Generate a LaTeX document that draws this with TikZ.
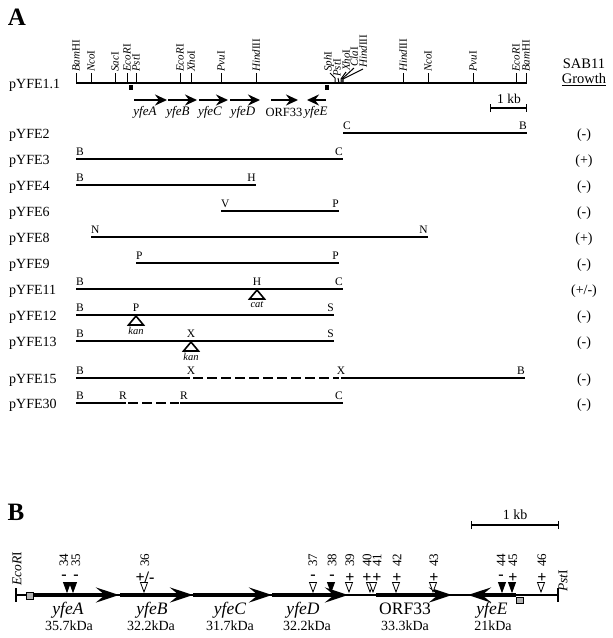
\documentclass[tikz,border=0pt]{standalone}
\usepackage{fontspec}
\setmainfont{Liberation Serif}
\usetikzlibrary{arrows.meta,positioning,calc}

\begin{document}
\begin{tikzpicture}[x=1pt, y=-1pt,
  every node/.style={inner sep=0pt},
  panel/.style={font=\bfseries\fontsize{25}{26}\selectfont},
  rowlbl/.style={anchor=west, font=\fontsize{14}{16}\selectfont},
  result/.style={font=\fontsize{14}{15}\selectfont},
  site/.style={rotate=90, anchor=west, font=\fontsize{11}{12}\selectfont},
  endpt/.style={font=\fontsize{11.5}{12}\selectfont},
  frag/.style={line width=1.2pt},
  deleted/.style={line width=1.2pt, dash pattern=on 10pt off 4pt},
  insert/.style={line width=1.6pt, line join=miter},
  cassette/.style={font=\itshape\fontsize{10.5}{11}\selectfont},
  orfA/.style={line width=2.6pt, -{Stealth[length=12pt,width=11pt,inset=4pt]}},
  orfB/.style={line width=4.8pt, -{Stealth[length=23pt,width=15pt,inset=9pt]}},
  gname/.style={font=\itshape\fontsize{13}{14}\selectfont},
  gnameB/.style={font=\fontsize{17.5}{19}\selectfont},
  kda/.style={font=\fontsize{14}{16}\selectfont},
  scalebar/.style={line width=1.1pt, {Bar[width=8pt]}-{Bar[width=8pt]}},
  num/.style={rotate=90, anchor=west, font=\fontsize{13}{14}\selectfont},
  sign/.style={font=\bfseries\fontsize{16}{17}\selectfont},
  opentri/.style={draw, fill=white, line width=0.8pt, line join=miter},
  filltri/.style={draw, fill=black, line width=0.8pt, line join=miter}]
  \useasboundingbox (0,0) rectangle (613,638);

  % ---------------- Panel A: restriction map of pYFE1.1
  \node[panel] (pA) at (17,17) {A};
  \node[rowlbl] (p11) at (9,85) {pYFE1.1};
  \draw[line width=1.3pt] (76,83) -- (527,83);
  \foreach \x/\s in {76/\textit{Bam}HI, 91/\textit{Nco}I, 115/\textit{Sac}I,
      127/\textit{EcoR}I, 136/\textit{Pst}I, 180/\textit{EcoR}I, 191/\textit{Xho}I,
      221/\textit{Pvu}I, 256/\textit{Hind}III, 403/\textit{Hind}III, 428/\textit{Nco}I,
      473/\textit{Pvu}I, 516/\textit{EcoR}I, 526/\textit{Bam}HI}{
    \draw[line width=1pt] (\x,83) -- (\x,73);
    \node[site] at (\x,72) {\s};
  }
  % cluster of sites at the yfeE end
  \draw[line width=1pt] (335,83) -- (335,78) -- (330,73);
  \draw[line width=1pt] (339,83) -- (338,78);
  \draw[line width=1pt] (341,83) -- (341,79) -- (346,72);
  \draw[line width=1pt] (342,83) -- (342,79) -- (354,68);
  \draw[line width=1pt] (343,83) -- (343,79) -- (363,69);
  \node[site] (sph) at (329,72) {\textit{Sph}I};
  \node[site] (pst) at (337,77) {\textit{Pst}I};
  \node[site] (xho) at (346,71) {\textit{Xho}I};
  \node[site] (cla) at (354,67) {\textit{Cla}I};
  \node[site] (hind) at (363,68) {\textit{Hind}III};
  \fill (128.5,84.5) rectangle (132.5,89.5);
  \fill (324.5,84.5) rectangle (328.5,89.5);

  % genes
  \draw[orfA] (134,100) -- (167,100);
  \draw[orfA] (168,100) -- (197,100);
  \draw[orfA] (199,100) -- (228,100);
  \draw[orfA] (230,100) -- (260,100);
  \draw[orfA] (271,100) -- (298,100);
  \draw[orfA] (326,100) -- (307,100);
  \node[gname] (gA) at (145,112) {yfeA};
  \node[gname] (gB) at (178,112) {yfeB};
  \node[gname] (gC) at (210,112) {yfeC};
  \node[gname] (gD) at (243,112) {yfeD};
  \node[gname, font=\fontsize{12.5}{14}\selectfont] (gO) at (284,112) {ORF33};
  \node[gname] (gE) at (316,112) {yfeE};

  \draw[scalebar] (490,108) -- (527,108);
  \node[kda, font=\fontsize{13.5}{14}\selectfont] (kbA) at (509,99) {1 kb};

  \node[result, font=\fontsize{14.5}{16}\selectfont] (sab) at (584,64) {SAB11};
  \node[result, font=\fontsize{14.5}{16}\selectfont] (grow) at (584,80) {\underline{Growth}};

  % ---------------- subclones
  \foreach \n/\y/\r in {2/133/(-), 3/159/(+), 4/185/(-), 6/211/(-), 8/237/(+),
      9/263/(-), 11/289/{(+/-)}, 12/315/(-), 13/341/(-), 15/378/(-), 30/403/(-)}{
    \node[rowlbl] (row\n) at (9,\y+2) {pYFE\n};
    \node[result] (res\n) at (584,\y+2) {\r};
  }
  % pYFE2
  \draw[frag] (343,133) -- (527,133);
  \node[endpt, anchor=south west] (a2) at (343,130) {C};
  \node[endpt, anchor=south east] (b2) at (527,130) {B};
  % pYFE3
  \draw[frag] (76,159) -- (343,159);
  \node[endpt, anchor=south west] (a3) at (76,156) {B};
  \node[endpt, anchor=south east] (b3) at (343,156) {C};
  % pYFE4
  \draw[frag] (76,185) -- (256,185);
  \node[endpt, anchor=south west] (a4) at (76,182) {B};
  \node[endpt, anchor=south east] (b4) at (256,182) {H};
  % pYFE6
  \draw[frag] (221,211) -- (339,211);
  \node[endpt, anchor=south west] (a6) at (221,208) {V};
  \node[endpt, anchor=south east] (b6) at (339,208) {P};
  % pYFE8
  \draw[frag] (91,237) -- (428,237);
  \node[endpt, anchor=south west] (a8) at (91,234) {N};
  \node[endpt, anchor=south east] (b8) at (428,234) {N};
  % pYFE9
  \draw[frag] (136,263) -- (339,263);
  \node[endpt, anchor=south west] (a9) at (136,260) {P};
  \node[endpt, anchor=south east] (b9) at (339,260) {P};
  % pYFE11, cat insertion
  \draw[frag] (76,289) -- (343,289);
  \node[endpt, anchor=south west] (a11) at (76,286) {B};
  \node[endpt, anchor=south] (m11) at (257,286) {H};
  \node[endpt, anchor=south east] (b11) at (343,286) {C};
  \draw[insert] (257,290) -- (264.5,299) -- (249.5,299) -- cycle;
  \node[cassette] (cat) at (257,304.5) {cat};
  % pYFE12, kan insertion
  \draw[frag] (76,315) -- (334,315);
  \node[endpt, anchor=south west] (a12) at (76,312) {B};
  \node[endpt, anchor=south] (m12) at (136,312) {P};
  \node[endpt, anchor=south east] (b12) at (334,312) {S};
  \draw[insert] (136,316) -- (143.5,325) -- (128.5,325) -- cycle;
  \node[cassette] (kan1) at (136,330.5) {kan};
  % pYFE13, kan insertion
  \draw[frag] (76,341) -- (334,341);
  \node[endpt, anchor=south west] (a13) at (76,338) {B};
  \node[endpt, anchor=south] (m13) at (191,338) {X};
  \node[endpt, anchor=south east] (b13) at (334,338) {S};
  \draw[insert] (191,342) -- (198.5,351) -- (183.5,351) -- cycle;
  \node[cassette] (kan2) at (191,356.5) {kan};
  % pYFE15, XhoI deletion
  \draw[frag] (76,378) -- (190,378);
  \draw[deleted] (193,378) -- (339,378);
  \draw[frag] (341,378) -- (525,378);
  \node[endpt, anchor=south west] (a15) at (76,375) {B};
  \node[endpt, anchor=south] (m15) at (191,375) {X};
  \node[endpt, anchor=south] (n15) at (341,375) {X};
  \node[endpt, anchor=south east] (b15) at (525,375) {B};
  % pYFE30, EcoRI deletion
  \draw[frag] (76,403) -- (126,403);
  \draw[deleted] (128,403) -- (179,403);
  \draw[frag] (180,403) -- (343,403);
  \node[endpt, anchor=south west] (a30) at (76,400) {B};
  \node[endpt, anchor=south] (m30) at (123,400) {R};
  \node[endpt, anchor=south west] (n30) at (180,400) {R};
  \node[endpt, anchor=south east] (b30) at (343,400) {C};

  % ---------------- Panel B: EcoRI-PstI fragment
  \node[panel] (pB) at (16,512) {B};
  \draw[scalebar] (471,525) -- (559,525);
  \node[kda] (kbB) at (515,515) {1 kb};

  \draw[line width=1.3pt] (16,595) -- (558,595);
  \draw[line width=1.3pt] (16,588) -- (16,602);
  \draw[line width=1.3pt] (558,588) -- (558,602);
  \node[num, font=\fontsize{13.5}{14}\selectfont] (ecoB) at (17,586) {\textit{EcoR}I};
  \node[num, font=\fontsize{13.5}{14}\selectfont] (pstB) at (563,592) {\textit{Pst}I};

  \draw[orfB] (33,595) -- (119,595);
  \draw[orfB] (120,595) -- (193,595);
  \draw[orfB] (193,595) -- (272,595);
  \draw[orfB] (272,595) -- (348,595);
  \draw[orfB] (376,595) -- (452,595);
  \draw[orfB] (516,595) -- (468,595);
  \filldraw[fill=gray!60, line width=0.5pt] (26.5,592.5) rectangle (33,599.5);
  \filldraw[fill=gray!60, line width=0.5pt] (516,597) rectangle (523,603);

  \node[gnameB, font=\itshape\fontsize{17.5}{19}\selectfont] (bA) at (68,610) {yfeA};
  \node[gnameB, font=\itshape\fontsize{17.5}{19}\selectfont] (bB) at (152,610) {yfeB};
  \node[gnameB, font=\itshape\fontsize{17.5}{19}\selectfont] (bC) at (230,610) {yfeC};
  \node[gnameB, font=\itshape\fontsize{17.5}{19}\selectfont] (bD) at (303,610) {yfeD};
  \node[gnameB] (bO) at (405,609) {ORF33};
  \node[gnameB, font=\itshape\fontsize{17.5}{19}\selectfont] (bE) at (492,610) {yfeE};
  \node[kda] (kA) at (69,626) {35.7kDa};
  \node[kda] (kB) at (151,626) {32.2kDa};
  \node[kda] (kC) at (230,626) {31.7kDa};
  \node[kda] (kD) at (307,626) {32.2kDa};
  \node[kda] (kO) at (405,626) {33.3kDa};
  \node[kda] (kE) at (493,626) {21kDa};

  % transposon insertions
  \foreach \tx/\nx/\n/\s/\st in {67/64/34/-/filltri, 73/76/35/-/filltri,
      144/145/36/{+/-}/opentri, 313/313/37/-/opentri, 331/332/38/-/filltri,
      349/350/39/+/opentri, 370/367/40/+/opentri, 373/377/41/+/opentri,
      396/397/42/+/opentri, 433/434/43/+/opentri, 502/501/44/-/filltri,
      512/513/45/+/filltri, 541/542/46/+/opentri}{
    \draw[\st] (\tx-3.5,582.5) -- (\tx+3.5,582.5) -- (\tx,592) -- cycle;
    \node[sign] (s\n) at (\nx,577.5) {\s};
    \node[num] (n\n) at (\nx,567) {\n};
  }
\end{tikzpicture}
\end{document}
